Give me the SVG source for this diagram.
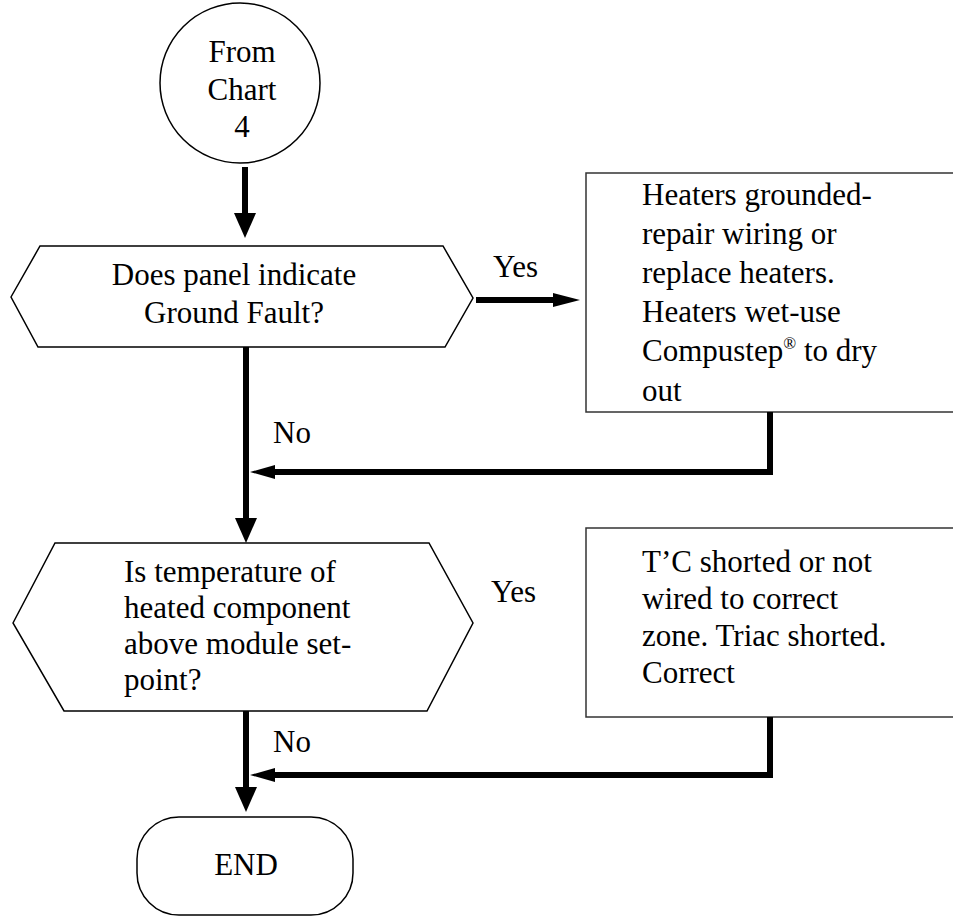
<svg xmlns="http://www.w3.org/2000/svg" width="953" height="916" viewBox="0 0 953 916">
<style>
.shape{fill:#fff;stroke:#000;stroke-width:1.5}
.box{fill:#fff;stroke:#333;stroke-width:1.5}
.t{font-family:"Liberation Serif","Times New Roman",serif;font-size:31px;fill:#000}
.c{text-anchor:middle}
.ln{fill:none;stroke:#000;stroke-width:6}
.ah{fill:#000}
</style>
<rect width="953" height="916" fill="#fff"/>
<g id="start">
<circle class="shape" cx="240" cy="83" r="80"/>
<text class="t c" x="242" y="62">From</text>
<text class="t c" x="242" y="100">Chart</text>
<text class="t c" x="242" y="137">4</text>
</g>
<g id="decision1">
<polygon class="shape" points="11,297 40,246 443,246 473,298 445,347 38,347"/>
<text class="t c" x="234" y="285">Does panel indicate</text>
<text class="t c" x="234" y="323">Ground Fault?</text>
</g>
<g id="action1">
<rect class="box" x="586" y="173" width="380" height="239"/>
<text class="t" x="642" y="205">Heaters grounded-</text>
<text class="t" x="642" y="244">repair wiring or</text>
<text class="t" x="642" y="283">replace heaters.</text>
<text class="t" x="642" y="322">Heaters wet-use</text>
<text class="t" x="642" y="361">Compustep<tspan font-size="17" dy="-12">®</tspan><tspan dy="12"> to dry</tspan></text>
<text class="t" x="642" y="401">out</text>
</g>
<g id="decision2">
<polygon class="shape" points="13,623 55,543 429,543 473,623 427,711 64,711"/>
<text class="t" x="124" y="582">Is temperature of</text>
<text class="t" x="124" y="618">heated component</text>
<text class="t" x="124" y="654">above module set-</text>
<text class="t" x="124" y="690">point?</text>
</g>
<g id="action2">
<rect class="box" x="586" y="528" width="380" height="189"/>
<text class="t" x="642" y="572">T’C shorted or not</text>
<text class="t" x="642" y="609">wired to correct</text>
<text class="t" x="642" y="646">zone. Triac shorted.</text>
<text class="t" x="642" y="683">Correct</text>
</g>
<g id="end">
<rect class="shape" x="137" y="817" width="216" height="98" rx="42" ry="42"/>
<text class="t c" x="246" y="875">END</text>
</g>
<g id="connectors">
<line class="ln" x1="245" y1="167" x2="245" y2="215"/>
<polygon class="ah" points="234,213 256,213 245,238"/>
<line class="ln" x1="476" y1="300" x2="556" y2="300"/>
<polygon class="ah" points="553,293 553,307 580,300"/>
<text class="t" x="493" y="277">Yes</text>
<line class="ln" x1="246" y1="347" x2="246" y2="520"/>
<polygon class="ah" points="235,518 257,518 246,543"/>
<text class="t" x="273" y="443">No</text>
<polyline class="ln" points="770,412 770,472 272,472"/>
<polygon class="ah" points="275,465 275,479 250,472"/>
<text class="t" x="491" y="602">Yes</text>
<line class="ln" x1="246" y1="711" x2="246" y2="789"/>
<polygon class="ah" points="235,787 257,787 246,812"/>
<text class="t" x="273" y="752">No</text>
<polyline class="ln" points="770,717 770,775 272,775"/>
<polygon class="ah" points="275,768 275,782 250,775"/>
</g>
</svg>
